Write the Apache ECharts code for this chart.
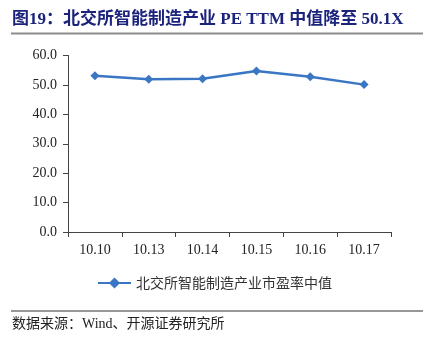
<!DOCTYPE html>
<html><head><meta charset="utf-8">
<script src="https://cdn.jsdelivr.net/npm/echarts@6/dist/echarts.min.js"></script>
<style>html,body{margin:0;padding:0;background:#fff}#c{width:433px;height:337px}</style>
</head><body><div id="c"></div>
<script>
const titleText = '图19：北交所智能制造产业 PE TTM 中值降至 50.1X';
const sourceText = '数据来源：Wind、开源证券研究所';
const seriesName = '北交所智能制造产业市盈率中值';
const categories = ['10.10','10.13','10.14','10.15','10.16','10.17'];
const values = [53.1, 51.9, 52.1, 54.7, 52.8, 50.1];
const yTicks = {min: 0, max: 60, interval: 10};

const chart = echarts.init(document.getElementById('c'), null, {renderer:'canvas'});
const serif = '"Liberation Serif","Noto Serif CJK SC","Noto Sans CJK SC",serif';
chart.setOption({
  animation: false,
  backgroundColor: '#fff',
  grid: {left: 68, right: 42, top: 55.5, bottom: 105},
  graphic: [
    {type:'text', left: 12, top: 11, style:{text: titleText, fill:'#1b237d', font:'bold 17px "Liberation Serif","Noto Sans CJK SC",serif'}},
    {type:'rect', shape:{x:11, y:32.5, width:412, height:2}, style:{fill:'#8c8c8c'}},
    {type:'rect', shape:{x:11, y:310.5, width:412, height:1}, style:{fill:'#333'}},
    {type:'text', left: 12, top: 317, style:{text: sourceText, fill:'#222', font:'14px "Liberation Serif","Noto Sans CJK SC",serif'}}
  ],
  legend: {
    show: true, left: 97, top: 276, padding: 0, itemWidth: 33, itemHeight: 14, itemGap: 4,
    textStyle: {fontFamily: '"Noto Sans CJK SC",sans-serif', fontSize: 14, color: '#333'}
  },
  xAxis: {
    type: 'category', data: categories, boundaryGap: true,
    axisLine: {lineStyle: {color: '#444', width: 1}},
    axisTick: {show: true, alignWithLabel: false, length: 5, inside: false, lineStyle:{color:'#444'}},
    axisLabel: {fontFamily: serif, fontSize: 14, color: '#222', margin: 11}
  },
  yAxis: {
    type: 'value', min: yTicks.min, max: yTicks.max, interval: yTicks.interval,
    axisLine: {show: true, lineStyle: {color: '#444'}},
    axisTick: {show: true, length: 5, lineStyle:{color:'#444'}},
    splitLine: {show: false},
    axisLabel: {fontFamily: serif, fontSize: 14, color: '#222', margin: 11, formatter: v => v.toFixed(1)}
  },
  series: [{
    name: seriesName, type: 'line', data: values,
    symbol: 'diamond', symbolSize: 9,
    itemStyle: {color: '#3a76c4'},
    lineStyle: {color: '#3a76c4', width: 2.5}
  }]
});
</script></body></html>
